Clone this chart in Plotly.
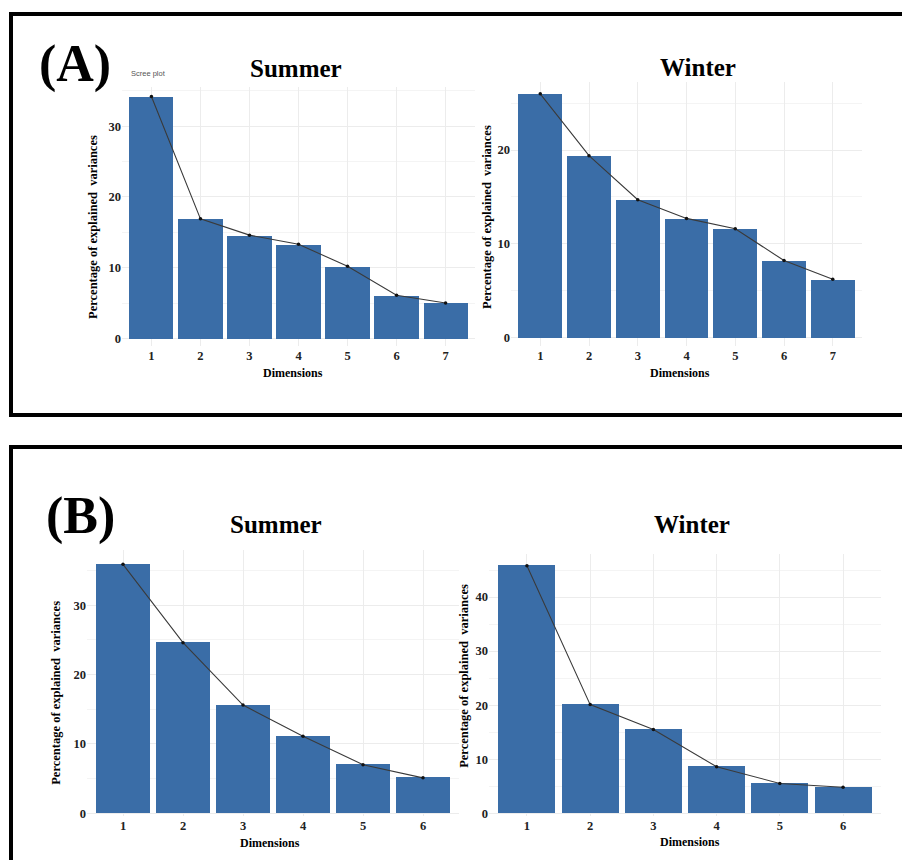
import plotly.graph_objects as go

W, H = 902, 860

# ---- data ----
dims_a = [1, 2, 3, 4, 5, 6, 7]
summer_a = [34.2, 16.9, 14.6, 13.3, 10.2, 6.1, 5.0]
winter_a = [26.0, 19.4, 14.7, 12.7, 11.6, 8.2, 6.2]
dims_b = [1, 2, 3, 4, 5, 6]
summer_b = [35.9, 24.6, 15.6, 11.1, 7.0, 5.1]
winter_b = [45.8, 20.1, 15.5, 8.6, 5.5, 4.8]

BAR = "#3A6DA7"
LINE = "#3a3a3a"
SERIF = "Liberation Serif, Times New Roman, serif"
GRID = "#ececec"

# panels: (x values, y values, x px range, y px range (top,bottom), y range, ytick vals)
panels = [
    (dims_a, summer_a, (122, 475), (87, 348), (-1.13, 35.6), [0, 10, 20, 30]),
    (dims_a, winter_a, (511, 862), (82, 348), (-0.96, 27.3), [0, 10, 20]),
    (dims_b, summer_b, (87, 459), (553, 820), (-0.43, 37.9), [0, 10, 20, 30]),
    (dims_b, winter_b, (489, 881), (557, 820), (-0.55, 47.9), [0, 10, 20, 30, 40]),
]

def px(x):
    return x / W

def py(y):
    return 1 - y / H

fig = go.Figure()
for i, (xs, ys, (xl, xr), (yt, yb), yr, yt_vals) in enumerate(panels, start=1):
    xa = "x" if i == 1 else f"x{i}"
    ya = "y" if i == 1 else f"y{i}"
    fig.add_trace(go.Bar(x=xs, y=ys, width=0.9, marker=dict(color=BAR, line=dict(width=0)),
                         xaxis=xa, yaxis=ya, showlegend=False))
    fig.add_trace(go.Scatter(x=xs, y=ys, mode="lines+markers",
                             line=dict(color=LINE, width=1.1),
                             marker=dict(color="#111", size=3.5),
                             xaxis=xa, yaxis=ya, showlegend=False))
    n = len(xs)
    xkey = "xaxis" if i == 1 else f"xaxis{i}"
    ykey = "yaxis" if i == 1 else f"yaxis{i}"
    fig.layout[xkey] = dict(domain=[px(xl), px(xr)], anchor=ya, range=[0.4, n + 0.6],
                            tickvals=xs, ticktext=[str(v) for v in xs],
                            showgrid=True, gridcolor=GRID, gridwidth=1,
                            zeroline=False, showline=False, ticks="",
                            tickfont=dict(family=SERIF, size=12.5, color="#222", weight="bold"))
    fig.layout[ykey] = dict(domain=[py(yb), py(yt)], anchor=xa, range=list(yr),
                            tickvals=yt_vals, showgrid=True, gridcolor=GRID, gridwidth=1,
                            minor=dict(dtick=5, tick0=0, showgrid=True, gridcolor="#f4f4f4"),
                            zeroline=False, showline=False, ticks="",
                            tickfont=dict(family=SERIF, size=12.5, color="#222", weight="bold"))

ann = []
def text(x, y, s, size, bold=True, angle=0, font=SERIF, color="black"):
    ann.append(dict(x=px(x), y=py(y), xref="paper", yref="paper", text=(f"<b>{s}</b>" if bold else s),
                    showarrow=False, textangle=angle, xanchor="center", yanchor="middle",
                    font=dict(family=font, size=size, color=color)))

# panel letters
text(75, 64, "(A)", 52)
text(80, 518, "(B)", 52)
# titles
text(296, 69, "Summer", 25)
text(698, 68, "Winter", 25)
text(276, 527, "Summer", 25)
text(692, 527, "Winter", 25)
text(148, 74, "Scree plot", 7.5, bold=False, font="Liberation Sans, Arial, sans-serif", color="#555")
# y titles
YT = "Percentage of explained  variances"
text(93, 228, YT, 12.5, angle=-90)
text(487, 218, YT, 12.5, angle=-90)
text(56, 696, YT, 12.5, angle=-90)
text(464, 679, YT, 12.5, angle=-90)
# x titles
text(293, 375, "Dimensions", 12)
text(680, 375, "Dimensions", 12)
text(270, 847, "Dimensions", 12)
text(690, 846, "Dimensions", 12)

shapes = [
    dict(type="rect", xref="paper", yref="paper", x0=px(11), x1=px(915), y0=py(417), y1=py(14),
         line=dict(color="black", width=4)),
    dict(type="rect", xref="paper", yref="paper", x0=px(11), x1=px(915), y0=py(880), y1=py(449),
         line=dict(color="black", width=4)),
]

fig.update_layout(width=W, height=H, margin=dict(l=0, r=0, t=0, b=0),
                  paper_bgcolor="white", plot_bgcolor="white",
                  annotations=ann, shapes=shapes, bargap=0)

fig.write_html("out.html", config={"displayModeBar": False},
               post_script="document.body.style.margin='0';document.body.style.overflow='hidden';")
